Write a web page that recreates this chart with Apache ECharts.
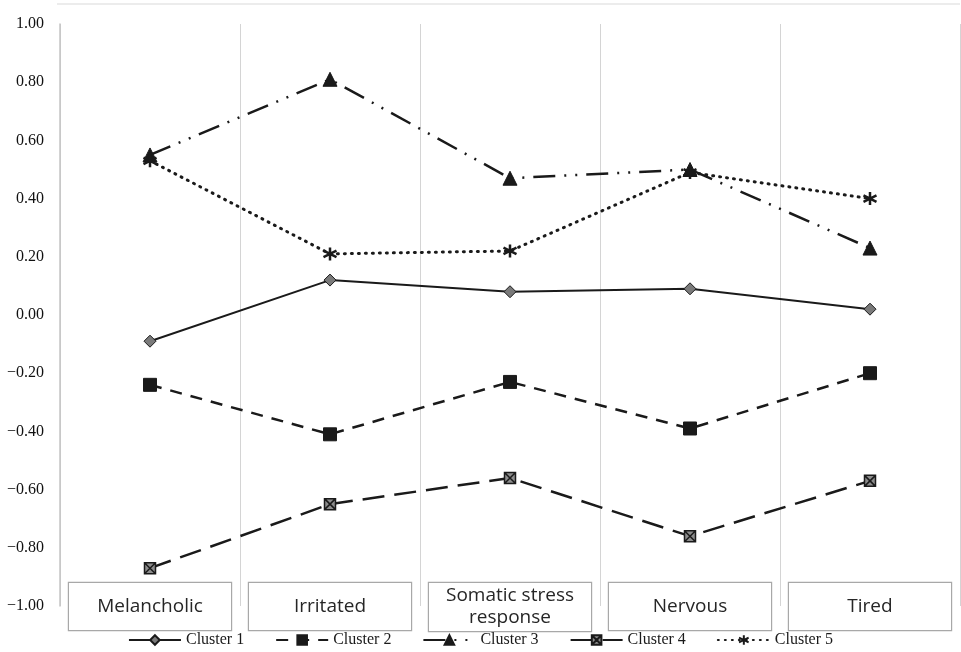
<!DOCTYPE html>
<html>
<head>
<meta charset="utf-8">
<script src="https://cdn.jsdelivr.net/npm/echarts@6/dist/echarts.min.js"></script>
<style>html,body{margin:0;padding:0;background:#fff}#c{width:961px;height:652px}</style>
</head>
<body>
<div id="c"></div>
<script>
const categories = ['Melancholic', 'Irritated', 'Somatic stress\nresponse', 'Nervous', 'Tired'];
const seriesNames = ['Cluster 1', 'Cluster 2', 'Cluster 3', 'Cluster 4', 'Cluster 5'];
const cluster1 = [-0.09, 0.12, 0.08, 0.09, 0.02];
const cluster2 = [-0.24, -0.41, -0.23, -0.39, -0.20];
const cluster3 = [0.55, 0.81, 0.47, 0.50, 0.23];
const cluster4 = [-0.87, -0.65, -0.56, -0.76, -0.57];
const cluster5 = [0.53, 0.21, 0.22, 0.49, 0.40];
const yTicks = { min: -1, max: 1, interval: 0.2 };

const ink = '#1a1a1a';
const boxX = 'path://M0,0L10,0L10,10L0,10Z M0,0L10,10 M10,0L0,10';
const asterisk = 'path://M5,0L5,10 M0.7,2.5L9.3,7.5 M9.3,2.5L0.7,7.5';

const chart = echarts.init(document.getElementById('c'));
const mk = (name, data, dash, symbol, size, fill, extra) => Object.assign({
  name, type: 'line', data,
  symbol, symbolSize: size,
  itemStyle: { color: fill, borderColor: ink, borderWidth: 1 },
  lineStyle: { color: ink, width: 2.5, type: dash },
  emphasis: { disabled: true },
  z: 3
}, extra || {});

chart.setOption({
  animation: false,
  backgroundColor: '#fff',
  grid: { left: 60, right: 1, top: 24, bottom: 46 },
  graphic: [{
    type: 'line', shape: { x1: 57, y1: 4, x2: 960, y2: 4 },
    style: { stroke: '#e6e6e6', lineWidth: 1.5 }, silent: true
  }],
  legend: {
    bottom: -1, left: 'center',
    itemWidth: 52, itemHeight: 12, itemGap: 31,
    textStyle: { fontFamily: 'Liberation Serif', fontSize: 16, color: ink },
    data: seriesNames
  },
  xAxis: {
    type: 'category', data: categories, boundaryGap: true,
    axisLine: { show: false }, axisTick: { show: false },
    splitLine: { show: true, lineStyle: { color: '#d4d4d4', width: 1 } },
    axisLabel: {
      margin: -23, interval: 0,
      backgroundColor: '#fff', borderColor: '#a8a8a8', borderWidth: 1.2,
      width: 162, padding: [2, 0],
      formatter: v => v.indexOf('\n') >= 0
        ? v.split('\n').map(s => '{b|' + s + '}').join('\n')
        : '{a|' + v + '}',
      rich: {
        a: { fontFamily: 'Open Sans', fontSize: 19, color: '#262626', lineHeight: 43, width: 162, align: 'center' },
        b: { fontFamily: 'Open Sans', fontSize: 19, color: '#262626', lineHeight: 22, width: 162, align: 'center' }
      }
    }
  },
  yAxis: {
    type: 'value', min: yTicks.min, max: yTicks.max, interval: yTicks.interval,
    axisLine: { show: true, lineStyle: { color: '#c4c4c4', width: 1.5 } },
    axisTick: { show: false },
    splitLine: { show: false },
    axisLabel: {
      margin: 16, fontFamily: 'Liberation Serif', fontSize: 16, color: '#111',
      formatter: v => (v < 0 ? '\u2212' : '') + Math.abs(v).toFixed(2)
    }
  },
  series: [
    mk('Cluster 1', cluster1, 'solid', 'diamond', 12, '#7a7a7a', { lineStyle: { color: ink, width: 2, type: 'solid' } }),
    mk('Cluster 2', cluster2, [12, 9], 'rect', 13, ink),
    mk('Cluster 3', cluster3, [22, 9, 2, 9, 2, 9], 'triangle', 14, ink),
    mk('Cluster 4', cluster4, [22, 10], boxX, 11, '#8c8c8c', { itemStyle: { color: '#8c8c8c', borderColor: ink, borderWidth: 1.5 } }),
    mk('Cluster 5', cluster5, [1, 6], asterisk, 13, ink, {
      itemStyle: { color: ink, borderColor: ink, borderWidth: 2.5 },
      lineStyle: { color: ink, width: 3, type: [1, 6], cap: 'round' }
    })
  ]
});
</script>
</body>
</html>
